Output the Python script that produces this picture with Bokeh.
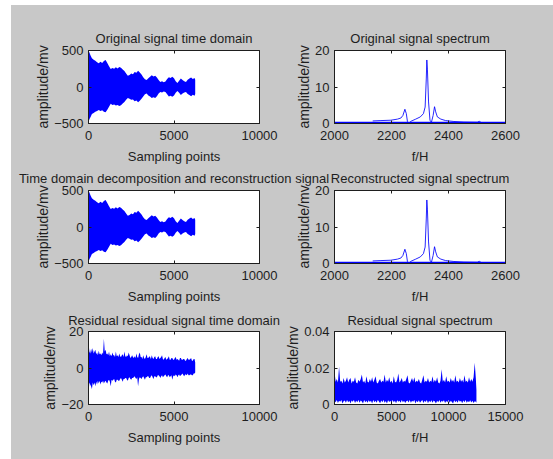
from bokeh.plotting import figure
from bokeh.models import Range1d, FixedTicker, LinearAxis, Label
from bokeh.layouts import column, row
from bokeh.embed import file_html
from bokeh.resources import INLINE

# ---------------- data ----------------
# Original / reconstructed time-domain signal: upper and lower envelope of the dense oscillation
sig_x = [0, 60, 120, 200, 300, 400, 500, 600, 700, 800, 900, 1000, 1100, 1200, 1300, 1400,
         1500, 1600, 1700, 1800, 1900, 2000, 2100, 2200, 2300, 2400, 2500, 2600, 2700, 2800,
         2900, 3000, 3100, 3200, 3300, 3400, 3500, 3600, 3700, 3800, 3900, 4000, 4100, 4200,
         4300, 4400, 4500, 4600, 4700, 4800, 4900, 5000, 5100, 5200, 5300, 5400, 5500, 5600,
         5700, 5800, 5900, 6000, 6100, 6200, 6240]
sig_up = [500, 470, 430, 395, 375, 360, 340, 325, 345, 330, 355, 370, 330, 285, 245, 260,
          250, 270, 255, 275, 265, 240, 220, 185, 155, 165, 185, 175, 205, 195,
          222, 200, 170, 135, 105, 95, 120, 140, 160, 145, 155, 130, 95, 70,
          80, 65, 75, 110, 135, 125, 140, 120, 80, 55, 85, 115, 95, 80,
          70, 100, 115, 130, 110, 125, 100]
sig_lo = [-480, -440, -410, -370, -355, -340, -330, -315, -330, -320, -340, -345, -310, -270, -230, -245,
          -240, -255, -245, -260, -250, -225, -205, -175, -150, -160, -175, -170, -195, -185,
          -210, -190, -160, -130, -100, -90, -115, -130, -150, -140, -150, -125, -90, -70,
          -75, -60, -70, -100, -130, -120, -135, -115, -80, -55, -80, -110, -90, -75,
          -70, -95, -110, -125, -105, -120, -95]

# Original / reconstructed spectrum
spec_f = [2134, 2163, 2198, 2221, 2233, 2240, 2247, 2252, 2256, 2260, 2268, 2285, 2301, 2312,
          2318, 2322, 2324, 2326, 2330, 2335, 2340, 2346, 2351, 2355, 2361, 2373, 2390, 2419,
          2454, 2501, 2508, 2515, 2600]
spec_a = [0.7, 0.8, 0.9, 1.2, 1.5, 2.2, 3.9, 2.7, 0.5, 0.05, 0.6, 1.2, 1.8, 2.7,
          4.5, 12.2, 17.4, 14.9, 5.9, 0.9, 0.3, 2.2, 4.6, 3.2, 1.8, 1.2, 0.8, 0.55,
          0.4, 0.35, 0.6, 0.25, 0.25]
base_f = [2000, 2600]
base_a = [0.2, 0.2]

# Residual time-domain signal: envelope of the noise
res_x = [0, 50, 100, 150, 200, 250, 300, 350, 400, 450,
         500, 550, 600, 650, 700, 750, 800, 850, 900, 950,
         1000, 1050, 1100, 1150, 1200, 1250, 1300, 1350, 1400, 1450,
         1500, 1550, 1600, 1650, 1700, 1750, 1800, 1850, 1900, 1950,
         2000, 2050, 2100, 2150, 2200, 2250, 2300, 2350, 2400, 2450,
         2500, 2550, 2600, 2650, 2700, 2750, 2800, 2850, 2900, 2950,
         3000, 3050, 3100, 3150, 3200, 3250, 3300, 3350, 3400, 3450,
         3500, 3550, 3600, 3650, 3700, 3750, 3800, 3850, 3900, 3950,
         4000, 4050, 4100, 4150, 4200, 4250, 4300, 4350, 4400, 4450,
         4500, 4550, 4600, 4650, 4700, 4750, 4800, 4850, 4900, 4950,
         5000, 5050, 5100, 5150, 5200, 5250, 5300, 5350, 5400, 5450,
         5500, 5550, 5600, 5650, 5700, 5750, 5800, 5850, 5900, 5950,
         6000, 6050, 6100, 6150, 6200, 6240]
res_up = [14, 9, 8, 10.5, 8.5, 11, 8, 9, 10, 7.5,
          8.5, 7, 9.5, 7.5, 8, 7, 8.5, 7.5, 16, 9,
          10, 7.5, 8, 7, 9, 6.5, 7.5, 6.5, 8.5, 7,
          7, 6, 9, 6.5, 7, 6, 8, 6.5, 6, 7,
          7.5, 6, 9, 6.5, 6, 7, 6.5, 8.5, 7, 5.5,
          6, 7, 6, 5.5, 6.5, 5.5, 8, 6, 5.5, 7.5,
          8.5, 6, 6, 5, 7, 5.5, 5, 6, 7.5, 5.5,
          5.5, 6.5, 6, 5, 7, 5.5, 5, 6, 6.5, 5,
          5, 6, 6.5, 5, 5.5, 6, 7, 5, 4.5, 5.5,
          6, 4.5, 5, 5.5, 6.5, 4.5, 4.5, 5.5, 5.5, 4.5,
          4.5, 5.5, 6, 4.5, 5, 4.5, 4, 5.5, 5.5, 4.5,
          4.5, 5, 5, 4, 4, 5, 5.5, 4.5, 4.5, 5,
          5.5, 4, 4, 5, 5, 3]
res_lo = [-14, -8, -9, -10, -11.5, -8, -9.5, -8, -10, -7.5,
          -9, -7, -8.5, -7, -9, -7.5, -8, -7, -8.5, -7.5,
          -7, -8, -8.5, -7, -6.5, -7.5, -10, -6.5, -7, -6.5,
          -6, -7.5, -8, -6.5, -6.5, -7, -7, -6, -5.5, -6.5,
          -7.5, -6, -6, -5.5, -5.5, -6.5, -7, -5.5, -5, -6,
          -6.5, -5.5, -5.5, -5, -4.5, -5.5, -6, -5, -10, -6,
          -5, -5.5, -6, -5, -4.5, -5.5, -6.5, -5, -5, -4.5,
          -4.5, -5.5, -5.5, -4.5, -4, -5, -6, -4.5, -4.5, -5,
          -5, -4, -4, -4.5, -5.5, -4.5, -4, -5, -4.5, -4,
          -3.5, -4.5, -5, -4, -4, -5, -4.5, -4, -6.5, -4.5,
          -4, -4.5, -3.5, -4, -5, -4, -3.5, -4.5, -4, -3.5,
          -3, -4, -4.5, -3.5, -3.5, -4, -3, -4, -4, -3.5,
          -3.5, -4, -4, -3, -3, -2.5]

# Residual spectrum: envelope of the noise floor
rs_f = [0, 100, 200, 300, 400, 500, 600, 700, 800, 900,
        1000, 1100, 1200, 1300, 1400, 1500, 1600, 1700, 1800, 1900,
        2000, 2100, 2200, 2300, 2400, 2500, 2600, 2700, 2800, 2900,
        3000, 3100, 3200, 3300, 3400, 3500, 3600, 3700, 3800, 3900,
        4000, 4100, 4200, 4300, 4400, 4500, 4600, 4700, 4800, 4900,
        5000, 5100, 5200, 5300, 5400, 5500, 5600, 5700, 5800, 5900,
        6000, 6100, 6200, 6300, 6400, 6500, 6600, 6700, 6800, 6900,
        7000, 7100, 7200, 7300, 7400, 7500, 7600, 7700, 7800, 7900,
        8000, 8100, 8200, 8300, 8400, 8500, 8600, 8700, 8800, 8900,
        9000, 9100, 9200, 9300, 9400, 9500, 9600, 9700, 9800, 9900,
        10000, 10100, 10200, 10300, 10400, 10500, 10600, 10700, 10800, 10900,
        11000, 11100, 11200, 11300, 11400, 11500, 11600, 11700, 11800, 11900,
        12000, 12100, 12200, 12300, 12400, 12450]
rs_up = [0.018, 0.0125, 0.014, 0.012, 0.0207, 0.0125, 0.013, 0.0115, 0.0145, 0.012,
         0.013, 0.015, 0.012, 0.0135, 0.0145, 0.0115, 0.013, 0.0125, 0.015, 0.012,
         0.0115, 0.0135, 0.0125, 0.014, 0.0165, 0.012, 0.013, 0.0115, 0.0155, 0.0125,
         0.012, 0.014, 0.0125, 0.015, 0.012, 0.0135, 0.0155, 0.012, 0.0115, 0.013,
         0.014, 0.012, 0.013, 0.0125, 0.0165, 0.012, 0.0135, 0.0125, 0.015, 0.012,
         0.013, 0.0115, 0.0155, 0.0125, 0.012, 0.0135, 0.017, 0.012, 0.013, 0.0145,
         0.012, 0.013, 0.0125, 0.014, 0.016, 0.012, 0.0115, 0.013, 0.0145, 0.0125,
         0.015, 0.012, 0.013, 0.0125, 0.014, 0.012, 0.0115, 0.0135, 0.016, 0.012,
         0.013, 0.0125, 0.0145, 0.012, 0.013, 0.0125, 0.0155, 0.012, 0.0135, 0.0125,
         0.015, 0.012, 0.0115, 0.013, 0.0193, 0.0125, 0.0135, 0.012, 0.0155, 0.0125,
         0.013, 0.012, 0.0145, 0.0125, 0.0135, 0.012, 0.016, 0.0125, 0.013, 0.012,
         0.0145, 0.0125, 0.0135, 0.012, 0.016, 0.0125, 0.013, 0.012, 0.015, 0.0125,
         0.014, 0.0125, 0.015, 0.0229, 0.014, 0.008]
rs_lo = [0.002, 0.0012, 0.0025, 0.0008, 0.002, 0.0015, 0.0024, 0.0006, 0.0018, 0.0022,
         0.001, 0.0025, 0.0012, 0.002, 0.0005, 0.0022, 0.0015, 0.0024, 0.0008, 0.002,
         0.0012, 0.0025, 0.001, 0.0022, 0.0016, 0.0006, 0.0024, 0.0012, 0.002, 0.0009,
         0.0023, 0.0014, 0.0021, 0.0006, 0.0024, 0.0012, 0.002, 0.001, 0.0024, 0.0016,
         0.0007, 0.0022, 0.0012, 0.0025, 0.001, 0.0019, 0.0006, 0.0023, 0.0014, 0.0021,
         0.0009, 0.0024, 0.0012, 0.002, 0.0007, 0.0023, 0.0015, 0.0021, 0.001, 0.0024,
         0.0013, 0.002, 0.0008, 0.0018, 0.0022, 0.0011, 0.0025, 0.0009, 0.0021, 0.0015,
         0.0024, 0.0006, 0.002, 0.0013, 0.0023, 0.001, 0.0018, 0.0025, 0.0008, 0.0021,
         0.0014, 0.0024, 0.0007, 0.002, 0.0012, 0.0023, 0.001, 0.0022, 0.0016, 0.0005,
         0.0021, 0.0013, 0.0024, 0.0009, 0.002, 0.0015, 0.0023, 0.0008, 0.0019, 0.0012,
         0.0025, 0.001, 0.0021, 0.0014, 0.0006, 0.0023, 0.0012, 0.002, 0.0009, 0.0024,
         0.0015, 0.0021, 0.0007, 0.0022, 0.0012, 0.0025, 0.001, 0.0019, 0.0013, 0.0023,
         0.0011, 0.002, 0.0008, 0.0018, 0.0015, 0.001]

titles = ["Original signal time domain", "Original signal spectrum",
          "Time domain decomposition and reconstruction signal", "Reconstructed signal spectrum",
          "Residual residual signal time domain", "Residual signal spectrum"]
xlabels = ["Sampling points", "f/H"]
ylabel = "amplitude/mv"

# ---------------- style ----------------
GRAY = "#C8C8C8"
TXT = "#1E1E1E"
BLUE = "#0000FF"
FONT = "Liberation Sans"
FS = "13px"

W1, W2 = 268, 274
L1, L2 = 77, 55
FW = 171
FH = 73


def make_plot(width, left, height, top, xr, yr, xt, yt, xlabel, overrides=None):
    right = width - left - FW
    bottom = height - top - FH
    p = figure(width=width, height=height, x_range=Range1d(*xr), y_range=Range1d(*yr),
               output_backend="svg", toolbar_location=None,
               min_border_left=left, min_border_right=right,
               min_border_top=top, min_border_bottom=bottom,
               background_fill_color="white", border_fill_color=GRAY, border_fill_alpha=0,
               outline_line_color=TXT, outline_line_width=1)
    p.grid.visible = False
    p.xaxis.ticker = FixedTicker(ticks=xt)
    p.yaxis.ticker = FixedTicker(ticks=yt)
    p.xaxis.axis_label = xlabel
    p.yaxis.axis_label = ylabel
    for ax in (p.xaxis[0], p.yaxis[0]):
        ax.axis_line_color = TXT
        ax.major_tick_in = 3
        ax.major_tick_out = 0
        ax.major_tick_line_color = TXT
        ax.minor_tick_line_color = None
        ax.major_label_text_font = FONT
        ax.major_label_text_font_size = FS
        ax.major_label_text_color = TXT
        ax.axis_label_text_font = FONT
        ax.axis_label_text_font_style = "normal"
        ax.axis_label_text_color = TXT
    p.xaxis.major_label_standoff = 7
    p.yaxis.major_label_standoff = 5
    p.xaxis.axis_label_text_font_size = FS
    p.yaxis.axis_label_text_font_size = "14px"
    p.xaxis.axis_label_standoff = 6
    p.yaxis.axis_label_standoff = 0
    if overrides:
        p.yaxis.major_label_overrides = overrides
    # inward ticks on the top and right edges of the box (labels not drawn)
    for loc, ticks in (("above", xt), ("right", yt)):
        ax = LinearAxis(ticker=FixedTicker(ticks=ticks), axis_line_color=None,
                        major_tick_in=3, major_tick_out=0, major_tick_line_color=TXT,
                        minor_tick_line_color=None, major_label_text_font_size="1px",
                        major_label_text_alpha=0, major_label_standoff=0)
        p.add_layout(ax, loc)
    return p


def strip(height, t1, t2, base, overlap):
    s = figure(width=W1 + W2, height=height, x_range=Range1d(0, 1), y_range=Range1d(0, 1),
               x_axis_location=None, y_axis_location=None, toolbar_location=None,
               output_backend="svg", min_border=0, outline_line_color=None,
               background_fill_color=GRAY, background_fill_alpha=0,
               border_fill_color=GRAY, border_fill_alpha=0, margin=(-overlap, 0, 0, 0))
    s.grid.visible = False
    for cx, t in ((L1 + FW / 2, t1), (W1 + L2 + FW / 2, t2)):
        s.add_layout(Label(x=cx, y=base, x_units="screen", y_units="screen", text=t,
                           text_align="center", text_baseline="alphabetic",
                           text_font=FONT, text_font_size=FS, text_color=TXT))
    return s


def time_plot(width, left, height, top, up, lo, xs, yr, yt):
    p = make_plot(width, left, height, top, (0, 10000), yr, [0, 5000, 10000], yt, xlabels[0])
    p.varea(x=xs, y1=lo, y2=up, fill_color=BLUE)
    return p


def spec_plot(width, left, height, top):
    p = make_plot(width, left, height, top, (2000, 2600), (0, 20), [2000, 2200, 2400, 2600],
                  [0, 10, 20], xlabels[1])
    p.line(base_f, base_a, line_color=BLUE, line_width=2)
    p.line(spec_f, spec_a, line_color=BLUE, line_width=1, line_alpha=0.85)
    return p


# canvases overlap a little (transparent borders) so no text is cut at an edge
RH1, RT1 = 130, 11
RH3, RT3 = 138, 10
OV_ROW = 10

p1 = time_plot(W1, L1, RH1, RT1, sig_up, sig_lo, sig_x, (-500, 500), [-500, 0, 500])
p2 = spec_plot(W2, L2, RH1, RT1)
p3 = time_plot(W1, L1, RH1, RT1, sig_up, sig_lo, sig_x, (-500, 500), [-500, 0, 500])
p4 = spec_plot(W2, L2, RH1, RT1)
p5 = time_plot(W1, L1, RH3, RT3, res_up, res_lo, res_x, (-20, 20), [-20, 0, 20])
p6 = make_plot(W2, L2, RH3, RT3, (0, 15000), (0, 0.04), [0, 5000, 10000, 15000],
               [0, 0.02, 0.04], xlabels[1], overrides={0: "0", 0.02: "0.02", 0.04: "0.04"})
p6.varea(x=rs_f, y1=rs_lo, y2=rs_up, fill_color=BLUE)

s1 = strip(44, titles[0], titles[1], 10.7, 0)
s2 = strip(28, titles[2], titles[3], 10.7, 8)
s3 = strip(30, titles[4], titles[5], 11, 8)

bg = {"background-color": GRAY}
layout = column(s1, row(p1, p2, margin=(-OV_ROW, 0, 0, 0)),
                s2, row(p3, p4, margin=(-OV_ROW, 0, 0, 0)),
                s3, row(p5, p6, margin=(-OV_ROW, 0, 0, 0)),
                margin=(5, 0, 0, 11), styles=bg)

open("out.html", "w").write(file_html(layout, INLINE))
